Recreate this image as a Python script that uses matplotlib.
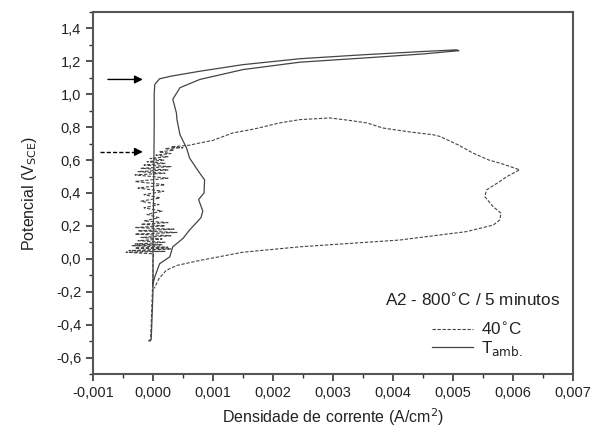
import matplotlib
matplotlib.use("Agg")
import matplotlib.pyplot as plt
from matplotlib.ticker import MultipleLocator, FuncFormatter

plt.rcParams['font.family'] = ['Liberation Sans', 'DejaVu Sans']

# 40 C curve (A/cm2, V_SCE) - forward scan near zero, noisy passive region, pitting loop
x_40 = [-0.00008, -0.00004, -0.00003, -0.00002, -0.00001, 0.0, 0.0, 0.00001,
        -0.00045, 0.0002, -0.0004, 0.0003, -0.0003, 0.00025, -0.00035, 0.00015,
        -0.0003, 0.0002, -0.00025, 0.00015, -0.0002, 0.0003, -0.0003, 0.0004,
        -0.00025, 0.00035, -0.0003, 0.0002, -0.0002, 0.00025, -0.00015, 0.0001,
        -0.0001, 0.00015, -0.00015, 0.0001, -0.0002, 0.00012, -0.00015, 0.00018,
        -0.00025, 0.0002, -0.0003, 0.00025, -0.0003, 0.0002, -0.00025, 0.00025,
        -0.0002, 0.0003, -0.00015, 0.0002, -0.0001, 0.00018, -0.00005, 0.00025,
        0.00005, 0.0003, 0.0001, 0.00035, 0.0002, 0.0005, 0.0003,
        0.0006, 0.00078, 0.001, 0.00133, 0.0017, 0.00211, 0.00245, 0.00295,
        0.0033, 0.00356, 0.00383, 0.0043, 0.00467, 0.00478, 0.0051, 0.00533,
        0.0056, 0.00578, 0.00611, 0.0059, 0.00578, 0.00556, 0.00553, 0.00567,
        0.0058, 0.00578, 0.00567, 0.00522, 0.00411, 0.00245, 0.0015, 0.00078,
        0.0004, 0.00022, 0.0001, 0.00006, 0.00002]
y_40 = [-0.50, -0.49, -0.40, -0.30, -0.20, -0.10, 0.0, 0.03,
        0.04, 0.045, 0.05, 0.06, 0.065, 0.07, 0.08, 0.085,
        0.09, 0.10, 0.11, 0.12, 0.13, 0.14, 0.15, 0.16,
        0.17, 0.18, 0.19, 0.20, 0.21, 0.22, 0.23, 0.25,
        0.27, 0.29, 0.31, 0.33, 0.35, 0.37, 0.39, 0.41,
        0.43, 0.45, 0.47, 0.49, 0.51, 0.52, 0.53, 0.54,
        0.55, 0.56, 0.57, 0.58, 0.59, 0.60, 0.61, 0.62,
        0.63, 0.64, 0.65, 0.66, 0.67, 0.675, 0.68,
        0.69, 0.704, 0.72, 0.765, 0.79, 0.826, 0.846, 0.856,
        0.84, 0.826, 0.795, 0.77, 0.754, 0.744, 0.69, 0.643,
        0.60, 0.582, 0.541, 0.50, 0.47, 0.419, 0.378, 0.317,
        0.277, 0.236, 0.205, 0.165, 0.114, 0.073, 0.04, -0.01,
        -0.04, -0.07, -0.12, -0.15, -0.18]

# room temperature curve
x_amb = [-0.00005, -0.00003, -0.00002, -0.00001, 0.0, 0.0, 0.00001, 0.00002,
         0.00002, 0.00003, 0.00011, 0.0003, 0.00078, 0.0015, 0.00245, 0.0035,
         0.0045, 0.00506,
         0.0051, 0.0045, 0.0035, 0.00245, 0.0015, 0.00078, 0.00045, 0.00033,
         0.00039, 0.0004, 0.00045, 0.00056, 0.00061, 0.00078, 0.00086, 0.00085,
         0.00076, 0.00083, 0.0008, 0.00061, 0.0005, 0.00033, 0.00028, 0.00011,
         0.00003, 0.0]
y_amb = [-0.50, -0.49, -0.40, -0.30, -0.20, 0.0, 0.40, 0.80,
         1.0, 1.06, 1.094, 1.11, 1.14, 1.18, 1.216, 1.24,
         1.26, 1.27,
         1.265, 1.245, 1.22, 1.195, 1.15, 1.09, 1.04, 0.97,
         0.887, 0.845, 0.754, 0.673, 0.612, 0.52, 0.48, 0.40,
         0.36, 0.29, 0.25, 0.175, 0.124, 0.073, 0.012, -0.03,
         -0.11, -0.15]

# arrows marking breakdown potentials
arrow_y = [1.09, 0.65]
arrow_x0 = [-0.00075, -0.00089]
arrow_x1 = [-0.00017, -0.00017]

yticks = [-0.6, -0.4, -0.2, 0.0, 0.2, 0.4, 0.6, 0.8, 1.0, 1.2, 1.4]

fig = plt.figure(figsize=(6.05, 4.33), dpi=100)
ax = fig.add_axes([0.1537, 0.1363, 0.7934, 0.836])

ln_col = '#444444'
ax.plot(x_40, y_40, color=ln_col, lw=0.8, ls=(0, (3, 1.5)), label='40$^{\\circ}$C')
ax.plot(x_amb, y_amb, color=ln_col, lw=0.9, label='T$_{\\mathrm{amb.}}$')

# solid arrow
ax.annotate('', xy=(arrow_x1[0], arrow_y[0]), xytext=(arrow_x0[0], arrow_y[0]),
            arrowprops=dict(arrowstyle='-|>', color='black', lw=1.0,
                            mutation_scale=12, shrinkA=0, shrinkB=0))
# dashed arrow: shaft then head
ax.plot([arrow_x0[1], arrow_x1[1] - 0.0001], [arrow_y[1], arrow_y[1]],
        color='black', lw=1.0, ls=(0, (3, 1.5)))
ax.annotate('', xy=(arrow_x1[1], arrow_y[1]), xytext=(arrow_x1[1] - 0.00012, arrow_y[1]),
            arrowprops=dict(arrowstyle='-|>', color='black', lw=1.0,
                            mutation_scale=12, shrinkA=0, shrinkB=0))

ax.xaxis.set_major_locator(MultipleLocator(0.001))
ax.xaxis.set_minor_locator(MultipleLocator(0.0005))
ax.set_yticks(yticks)
ax.yaxis.set_minor_locator(MultipleLocator(0.1))
ax.xaxis.set_major_formatter(FuncFormatter(lambda v, p: ('%.3f' % v).replace('.', ',').replace('-0,000', '0,000')))
ax.yaxis.set_major_formatter(FuncFormatter(lambda v, p: ('%.1f' % v).replace('.', ',').replace('-0,0', '0,0')))
ax.set_xlim(-0.001, 0.007)
ax.set_ylim(-0.7, 1.5)

ax.tick_params(which='both', direction='out', color='#333333', labelsize=10.5, labelcolor='#222222')
ax.tick_params(which='major', length=5, width=1.2)
ax.tick_params(which='minor', length=3, width=1.0)
for s in ax.spines.values():
    s.set_color('#555555')
    s.set_linewidth(1.5)

ax.set_xlabel('Densidade de corrente (A/cm$^{2}$)', fontsize=11.5, color='#222222', labelpad=5)
ax.set_ylabel('Potencial (V$_{\\mathrm{SCE}}$)', fontsize=11.5, color='#222222', labelpad=12)

ax.text(0.7906, 0.2044, 'A2 - 800$^{\\circ}$C / 5 minutos', transform=ax.transAxes,
        ha='center', va='center', fontsize=12.3, color='#222222')
leg = ax.legend(loc='upper left', bbox_to_anchor=(0.706, 0.146), frameon=False,
                fontsize=12.3, handlelength=2.4, labelspacing=0.05, handletextpad=0.5,
                borderaxespad=0, borderpad=0)
for t in leg.get_texts():
    t.set_color('#222222')

plt.savefig('out.png', dpi=100)
